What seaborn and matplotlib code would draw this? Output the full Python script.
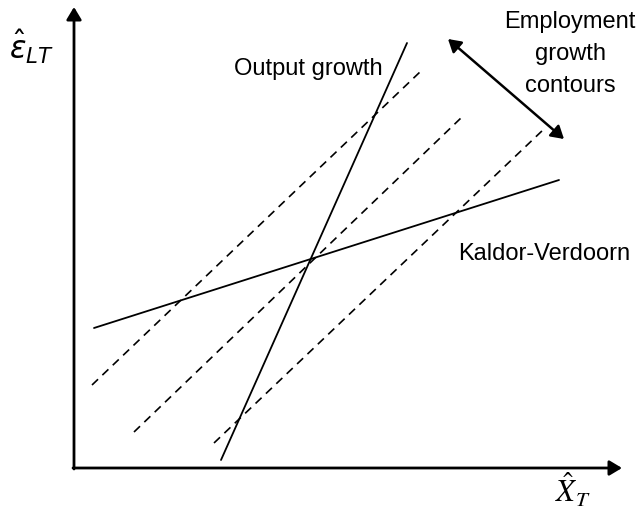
import matplotlib
matplotlib.use("Agg")
import matplotlib.pyplot as plt
import seaborn as sns
import pandas as pd

# --- diagram geometry (picture coordinates, y grows downward) ---
ORIGIN = (74, 468)
Y_AXIS_TOP = 7
X_AXIS_END = 622

# solid schedules
output_x = [221, 407]
output_y = [460, 43]
kv_x = [94, 559]
kv_y = [328, 180]

# dashed employment growth contours
contour_x = [[92, 421], [134, 462], [214, 544]]
contour_y = [[385, 71], [432, 117], [443, 129]]

# double-headed arrow across the contours
arrow_start = (448, 39)
arrow_end = (564, 139)

contour_label = ["Employment", "growth", "contours"]
contour_label_base = [28, 60, 92]

sns.set_theme(style="white")
plt.rcParams["font.family"] = ["Liberation Sans", "DejaVu Sans"]
plt.rcParams["text.color"] = "black"

fig = plt.figure(figsize=(6.4, 5.17), dpi=100)
ax = fig.add_axes([0, 0, 1, 1])
ax.set_xlim(0, 640)
ax.set_ylim(517, 0)
ax.axis("off")

# Output growth and Kaldor-Verdoorn lines
for xs, ys in [(output_x, output_y), (kv_x, kv_y)]:
    df = pd.DataFrame({"x": xs, "y": ys})
    sns.lineplot(data=df, x="x", y="y", sort=False, errorbar=None,
                 color="black", linewidth=1.3, ax=ax)

# contour lines (dashed)
for xs, ys in zip(contour_x, contour_y):
    df = pd.DataFrame({"x": xs, "y": ys})
    sns.lineplot(data=df, x="x", y="y", sort=False, errorbar=None,
                 color="black", linewidth=1.2, linestyle=(0, (5, 3.6)), ax=ax)

# axes with arrow heads
head = "-|>,head_length=0.5,head_width=0.3"
ax.annotate("", xy=(ORIGIN[0], Y_AXIS_TOP), xytext=(ORIGIN[0], ORIGIN[1] + 1),
            arrowprops=dict(arrowstyle=head, lw=2, color="black",
                            mutation_scale=15, shrinkA=0, shrinkB=0))
ax.annotate("", xy=(X_AXIS_END, ORIGIN[1]), xytext=(ORIGIN[0] - 1, ORIGIN[1]),
            arrowprops=dict(arrowstyle=head, lw=2, color="black",
                            mutation_scale=15, shrinkA=0, shrinkB=0))

ax.annotate("", xy=arrow_end, xytext=arrow_start,
            arrowprops=dict(arrowstyle="<|-|>,head_length=0.5,head_width=0.3",
                            lw=1.8, color="black", mutation_scale=15,
                            shrinkA=0, shrinkB=0))

# labels
ax.text(308, 75, "Output growth", ha="center", va="baseline", fontsize=17)
ax.text(458, 260, "Kaldor-Verdoorn", ha="left", va="baseline", fontsize=17)
for txt, yb in zip(contour_label, contour_label_base):
    ax.text(570, yb, txt, ha="center", va="baseline", fontsize=17)

ax.text(9, 59, r"$\hat{\varepsilon}_{LT}$", ha="left", va="baseline",
        fontsize=22, math_fontfamily="dejavusans")
ax.text(555, 503, r"$\hat{X}_{T}$", ha="left", va="baseline",
        fontsize=22, math_fontfamily="stix")

plt.savefig("out.png", dpi=100)
